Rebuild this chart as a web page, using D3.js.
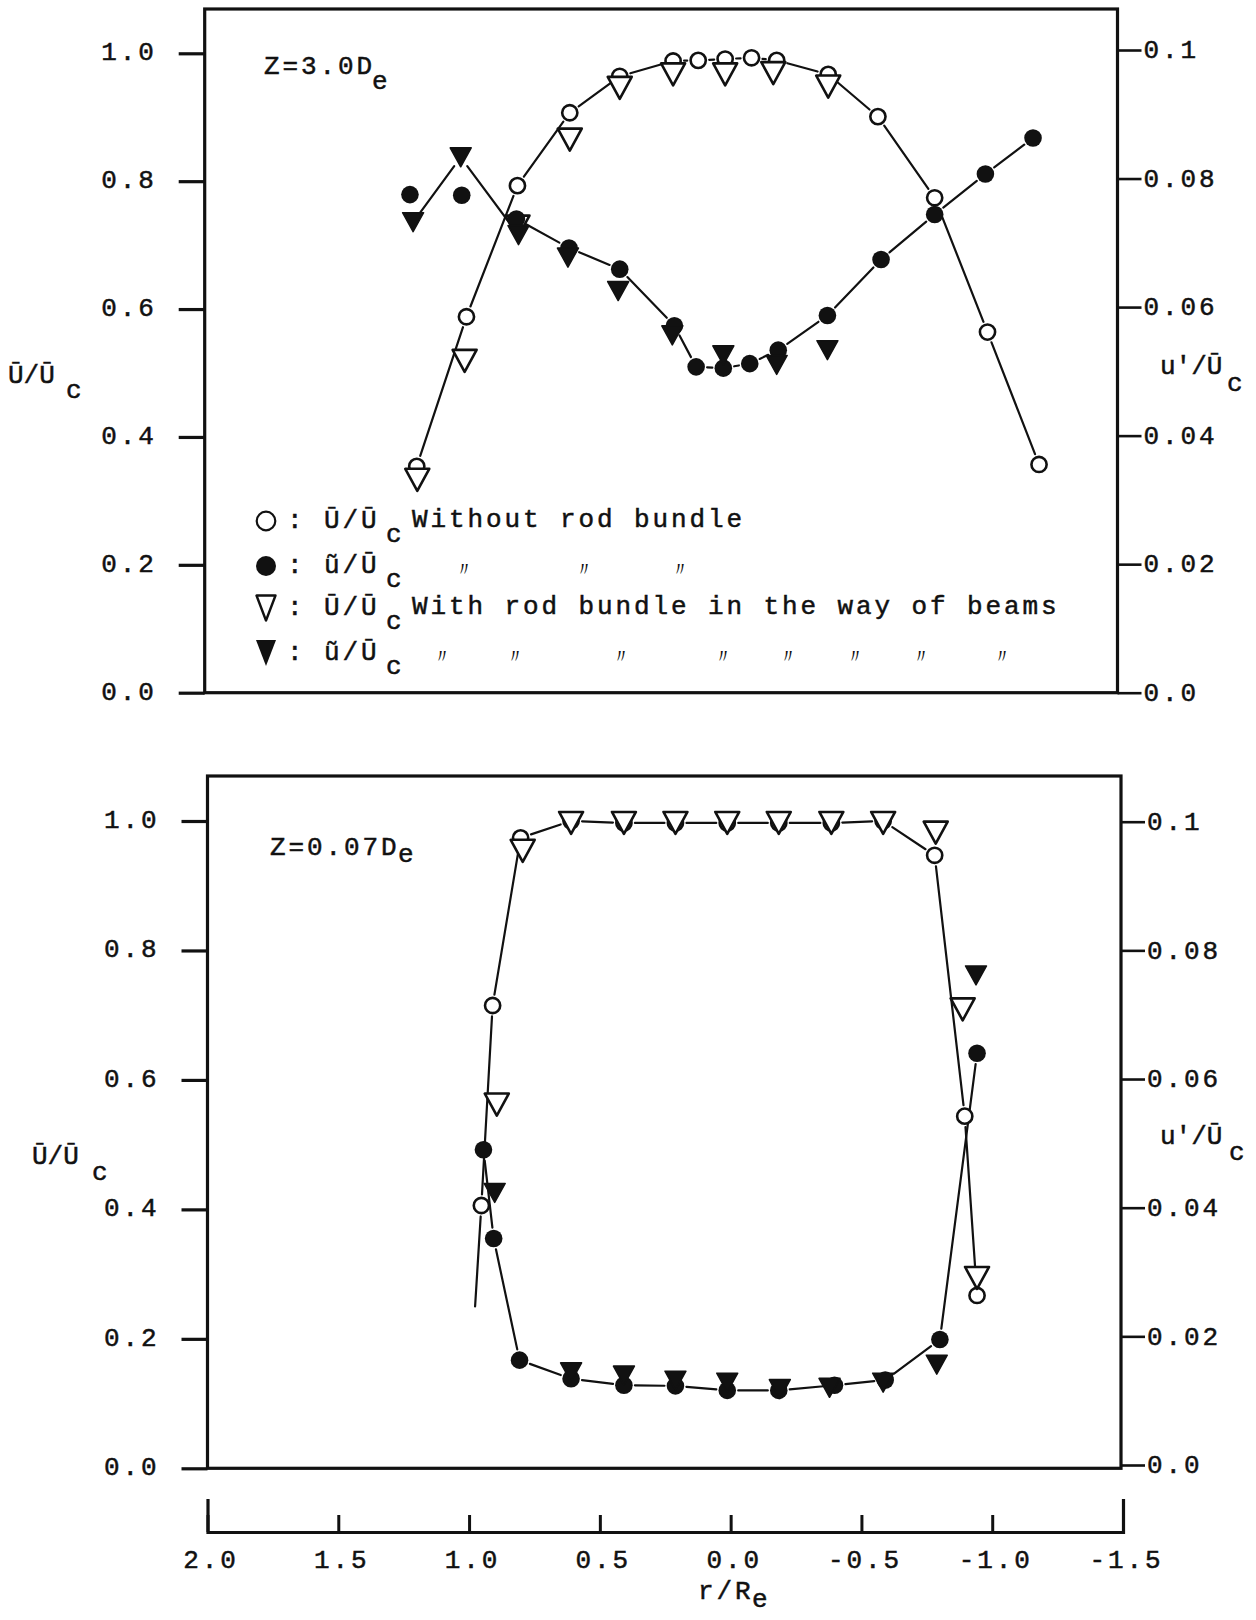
<!DOCTYPE html>
<html>
<head>
<meta charset="utf-8">
<script src="https://cdn.jsdelivr.net/npm/d3@7"></script>
<style>
  html, body { margin: 0; padding: 0; background: #fff; }
  svg { display: block; }
  text { font-family: "Liberation Mono", "DejaVu Sans Mono", monospace; fill: #111; }
</style>
</head>
<body>
<svg id="chart" width="1256" height="1620"></svg>
<script>
// Radial profiles of mean velocity (left axis) and turbulence intensity (right axis)
// across the jet, with and without the rod bundle, at two axial stations.

// ---------- Z = 3.0 De ----------
const upperBareMeanR  = [1.20, 1.01, 0.815, 0.615, 0.424, 0.220, 0.124, 0.021, -0.080, -0.176, -0.373, -0.563, -0.780, -0.982, -1.179];
const upperBareMean   = [0.354, 0.588, 0.793, 0.907, 0.964, 0.988, 0.989, 0.991, 0.993, 0.989, 0.967, 0.901, 0.774, 0.564, 0.357];
const upperRodMeanR   = [1.198, 1.017, 0.815, 0.615, 0.424, 0.220, 0.021, -0.163, -0.373];
const upperRodMean    = [0.333, 0.519, 0.729, 0.865, 0.946, 0.967, 0.967, 0.969, 0.948];
const upperBareRmsR   = [1.226, 1.028, 0.819, 0.618, 0.424, 0.215, 0.132, 0.028, -0.073, -0.182, -0.370, -0.575, -0.780, -0.974, -1.156];
const upperBareRms    = [0.0775, 0.0774, 0.0737, 0.0692, 0.0659, 0.0571, 0.0507, 0.0505, 0.0512, 0.0533, 0.0587, 0.0674, 0.0744, 0.0807, 0.0863];
const upperRodRmsR    = [1.214, 1.032, 0.811, 0.622, 0.430, 0.223, 0.028, -0.176, -0.370];
const upperRodRms     = [0.0732, 0.0833, 0.0712, 0.0677, 0.0625, 0.0556, 0.0525, 0.0510, 0.0533];

// ---------- Z = 0.07 De ----------
const lowerBareMeanR  = [0.953, 0.910, 0.803, 0.610, 0.408, 0.211, 0.013, -0.184, -0.385, -0.583, -0.780, -0.895, -0.942];
const lowerBareMean   = [0.406, 0.715, 0.974, 1.000, 0.997, 0.997, 0.997, 0.997, 0.997, 1.000, 0.947, 0.544, 0.267];
const lowerRodMeanR   = [0.894, 0.795, 0.610, 0.408, 0.211, 0.013, -0.184, -0.385, -0.583, -0.784, -0.887, -0.942];
const lowerRodMean    = [0.562, 0.954, 0.997, 0.997, 0.997, 0.997, 0.997, 0.997, 0.997, 0.982, 0.709, 0.294];
const lowerBareRmsR   = [0.945, 0.906, 0.807, 0.610, 0.408, 0.211, 0.013, -0.184, -0.397, -0.591, -0.800, -0.942];
const lowerBareRms    = [0.0490, 0.0352, 0.0163, 0.0134, 0.0124, 0.0123, 0.0116, 0.0116, 0.0124, 0.0132, 0.0195, 0.0640];
const lowerRodRmsR    = [0.902, 0.610, 0.408, 0.211, 0.013, -0.188, -0.378, -0.583, -0.788, -0.938];
const lowerRodRms     = [0.0423, 0.0144, 0.0139, 0.0131, 0.0128, 0.0118, 0.0120, 0.0128, 0.0156, 0.0761];
// hand-faired lead-in of the mean profile below the first point
const lowerBareMeanTailR = [0.977, 0.953];
const lowerBareMeanTail  = [0.250, 0.406];

// ---------- axes ----------
const leftTicks        = [0, 0.2, 0.4, 0.6, 0.8, 1.0];
const leftTickLabels   = ["0.0", "0.2", "0.4", "0.6", "0.8", "1.0"];
const rightTicks       = [0, 0.02, 0.04, 0.06, 0.08, 0.1];
const rightTickLabels  = ["0.0", "0.02", "0.04", "0.06", "0.08", "0.1"];
const xTicks           = [2.0, 1.5, 1.0, 0.5, 0.0, -0.5, -1.0, -1.5];
const xTickLabels      = ["2.0", "1.5", "1.0", "0.5", "0.0", "-0.5", "-1.0", "-1.5"];

const upperStation = ["Z=3.0D", "e"];
const lowerStation = ["Z=0.07D", "e"];
const legendLabels = ["Without rod bundle", "With rod bundle in the way of beams"];

// ------------------------------------------------------------
const svg = d3.select("#chart");
const FONT = 26, SPACING = 2.9;

const x = d3.scaleLinear().domain([2.0, -1.5]).range([207.5, 1123]);

const zip = (rs, vs) => rs.map((r, i) => ({ r, v: vs[i] }));

const panels = [
  {
    frame: { l: 204.7, r: 1117.5, t: 9, b: 692.7 },
    yLeft:  d3.scaleLinear().domain([0, 1]).range([692.7, 53.3]),
    yRight: d3.scaleLinear().domain([0, 0.1]).range([692.7, 50]),
    bareMean: zip(upperBareMeanR, upperBareMean),
    rodMean:  zip(upperRodMeanR, upperRodMean),
    bareRms:  zip(upperBareRmsR, upperBareRms),
    rodRms:   zip(upperRodRmsR, upperRodRms),
    tail: null,
    // which stretches of each series are joined by the faired line
    joins: [["bareMean", 0, 15], ["bareRms", 2, 15], ["rodRms", 0, 3]],
    station: upperStation, stationPos: { x: 264, y: 74, sx: 372, sy: 89 },
    leftTitle:  { x: 8, y: 383, sx: 66, sy: 398 },
    rightTitle: { x: 1160, y: 374, sx: 1227, sy: 391 },
    legend: true
  },
  {
    frame: { l: 207.5, r: 1121, t: 776, b: 1468.3 },
    yLeft:  d3.scaleLinear().domain([0, 1]).range([1468.3, 821]),
    yRight: d3.scaleLinear().domain([0, 0.1]).range([1465, 821.7]),
    bareMean: zip(lowerBareMeanR, lowerBareMean),
    rodMean:  zip(lowerRodMeanR, lowerRodMean),
    bareRms:  zip(lowerBareRmsR, lowerBareRms),
    rodRms:   zip(lowerRodRmsR, lowerRodRms),
    tail: zip(lowerBareMeanTailR, lowerBareMeanTail),
    joins: [["bareMean", 0, 13], ["bareRms", 0, 12]],
    station: lowerStation, stationPos: { x: 270, y: 855, sx: 398, sy: 862 },
    leftTitle:  { x: 32, y: 1164, sx: 92, sy: 1180 },
    rightTitle: { x: 1160, y: 1144, sx: 1229, sy: 1160 },
    legend: false
  }
];

function styleText(sel, spaced = true) {
  sel.attr("font-family", "Liberation Mono, DejaVu Sans Mono, monospace")
     .attr("font-size", FONT)
     .attr("letter-spacing", spaced ? SPACING : 0)
     .attr("fill", "#111")
     .attr("stroke", "#111")
     .attr("stroke-width", 0.5);
}

function gappedSegments(pts, gap) {
  const segs = [];
  for (let i = 0; i < pts.length - 1; i++) {
    const [x1, y1] = pts[i], [x2, y2] = pts[i + 1];
    const dx = x2 - x1, dy = y2 - y1, d = Math.hypot(dx, dy);
    if (d <= 2 * gap + 3) continue;
    const ux = dx / d, uy = dy / d;
    segs.push([x1 + ux * gap, y1 + uy * gap, x2 - ux * gap, y2 - uy * gap]);
  }
  return segs;
}

const triDown = (w, h) => `M${-w / 2},${-h / 2}L${w / 2},${-h / 2}L0,${h / 2}Z`;

panels.forEach(p => {
  const g = svg.append("g");
  const f = p.frame;

  // frame
  g.append("rect")
    .attr("x", f.l).attr("y", f.t)
    .attr("width", f.r - f.l).attr("height", f.b - f.t)
    .attr("fill", "none").attr("stroke", "#111").attr("stroke-width", 3.2);

  // left axis
  const la = g.append("g").attr("transform", `translate(${f.l},0)`)
    .call(d3.axisLeft(p.yLeft).tickValues(leftTicks).tickSize(26).tickPadding(22)
      .tickFormat((d, i) => leftTickLabels[i]));
  la.select(".domain").remove();
  la.selectAll(".tick line").attr("stroke", "#111").attr("stroke-width", 3.2);
  la.selectAll(".tick text").call(styleText).attr("dy", "0.25em");

  // right axis
  const ra = g.append("g").attr("transform", `translate(${f.r},0)`)
    .call(d3.axisRight(p.yRight).tickValues(rightTicks).tickSize(24).tickPadding(2)
      .tickFormat((d, i) => rightTickLabels[i]));
  ra.select(".domain").remove();
  ra.selectAll(".tick line").attr("stroke", "#111").attr("stroke-width", 2.6);
  ra.selectAll(".tick text").call(styleText).attr("dy", "0.3em");

  // faired lines through the measured points
  const px = (d, key) => [x(d.r), (key.endsWith("Rms") ? p.yRight : p.yLeft)(d.v)];
  p.joins.forEach(([key, from, to]) => {
    const pts = p[key].slice(from, to).map(d => px(d, key));
    g.append("g").selectAll("line")
      .data(gappedSegments(pts, 11))
      .join("line")
      .attr("x1", s => s[0]).attr("y1", s => s[1])
      .attr("x2", s => s[2]).attr("y2", s => s[3])
      .attr("stroke", "#111").attr("stroke-width", 2.2).attr("stroke-linecap", "round");
  });
  if (p.tail) {
    const t = p.tail.map(d => [x(d.r), p.yLeft(d.v)]);
    const s = gappedSegments(t, 11)[0];
    g.append("line")
      .attr("x1", t[0][0]).attr("y1", t[0][1])
      .attr("x2", s[2]).attr("y2", s[3])
      .attr("stroke", "#111").attr("stroke-width", 2.2).attr("stroke-linecap", "round");
  }

  // markers
  g.append("g").selectAll("circle")
    .data(p.bareMean).join("circle")
    .attr("cx", d => x(d.r)).attr("cy", d => p.yLeft(d.v)).attr("r", 7.6)
    .attr("fill", "#fff").attr("stroke", "#111").attr("stroke-width", 2.6);

  g.append("g").selectAll("path")
    .data(p.rodMean).join("path")
    .attr("d", triDown(24, 22))
    .attr("transform", d => `translate(${x(d.r)},${p.yLeft(d.v)})`)
    .attr("fill", "#fff").attr("stroke", "#111").attr("stroke-width", 2.6)
    .attr("stroke-linejoin", "round");

  g.append("g").selectAll("circle")
    .data(p.bareRms).join("circle")
    .attr("cx", d => x(d.r)).attr("cy", d => p.yRight(d.v)).attr("r", 8.8)
    .attr("fill", "#111");

  g.append("g").selectAll("path")
    .data(p.rodRms).join("path")
    .attr("d", triDown(21, 19))
    .attr("transform", d => `translate(${x(d.r)},${p.yRight(d.v)})`)
    .attr("fill", "#111").attr("stroke", "#111").attr("stroke-width", 1.5)
    .attr("stroke-linejoin", "round");

  // station label
  g.append("text").attr("x", p.stationPos.x).attr("y", p.stationPos.y)
    .call(styleText).text(p.station[0]);
  g.append("text").attr("x", p.stationPos.sx).attr("y", p.stationPos.sy)
    .call(styleText).text(p.station[1]);

  // axis titles
  g.append("text").attr("x", p.leftTitle.x).attr("y", p.leftTitle.y)
    .call(styleText, false).text("Ū/Ū");
  g.append("text").attr("x", p.leftTitle.sx).attr("y", p.leftTitle.sy)
    .call(styleText, false).text("c");
  g.append("text").attr("x", p.rightTitle.x).attr("y", p.rightTitle.y)
    .call(styleText, false).text("u'/Ū");
  g.append("text").attr("x", p.rightTitle.sx).attr("y", p.rightTitle.sy)
    .call(styleText, false).text("c");

  if (p.legend) drawLegend(g);
});

function drawLegend(g) {
  const rows = [
    { y: 521, mark: "openCircle", q: "Ū/Ū", words: legendLabels[0], ditto: [] },
    { y: 566, mark: "dot",        q: "ũ/Ū", words: null, ditto: [464, 584, 680] },
    { y: 608, mark: "openTri",    q: "Ū/Ū", words: legendLabels[1], ditto: [] },
    { y: 653, mark: "solidTri",   q: "ũ/Ū", words: null, ditto: [442, 515, 621, 723, 788, 855, 921, 1002] }
  ];
  const sx = 266;
  rows.forEach(row => {
    if (row.mark === "openCircle")
      g.append("circle").attr("cx", sx).attr("cy", row.y).attr("r", 9.3)
        .attr("fill", "#fff").attr("stroke", "#111").attr("stroke-width", 2.2);
    if (row.mark === "dot")
      g.append("circle").attr("cx", sx).attr("cy", row.y).attr("r", 10).attr("fill", "#111");
    if (row.mark === "openTri")
      g.append("path").attr("d", triDown(19, 25)).attr("transform", `translate(${sx},${row.y})`)
        .attr("fill", "#fff").attr("stroke", "#111").attr("stroke-width", 2.4).attr("stroke-linejoin", "round");
    if (row.mark === "solidTri")
      g.append("path").attr("d", triDown(20, 26)).attr("transform", `translate(${sx},${row.y})`)
        .attr("fill", "#111");

    g.append("text").attr("x", 287).attr("y", row.y + 7).call(styleText).text(": " + row.q);
    g.append("text").attr("x", 386).attr("y", row.y + 21).call(styleText).text("c");
    if (row.words)
      g.append("text").attr("x", 412).attr("y", row.y + 6).call(styleText).text(row.words);
    row.ditto.forEach(dx => {
      g.append("text").attr("x", dx).attr("y", row.y + 10)
        .attr("text-anchor", "middle")
        .attr("font-family", "Noto Sans CJK JP, sans-serif")
        .attr("font-size", 20).attr("fill", "#111").text("〃");
    });
  });
}

// shared r/Re axis under the lower panel
const xa = svg.append("g").attr("transform", "translate(0,1532)")
  .call(d3.axisBottom(x).tickValues(xTicks).tickSize(-17).tickSizeOuter(-33).tickPadding(18)
    .tickFormat((d, i) => xTickLabels[i]));
xa.select(".domain").attr("stroke", "#111").attr("stroke-width", 3.2).attr("fill", "none");
xa.selectAll(".tick line").attr("stroke", "#111").attr("stroke-width", 3);
xa.selectAll(".tick text").call(styleText).attr("dx", 3);

svg.append("text").attr("x", 698).attr("y", 1599).call(styleText).text("r/R");
svg.append("text").attr("x", 752).attr("y", 1607).call(styleText).text("e");
</script>
</body>
</html>
